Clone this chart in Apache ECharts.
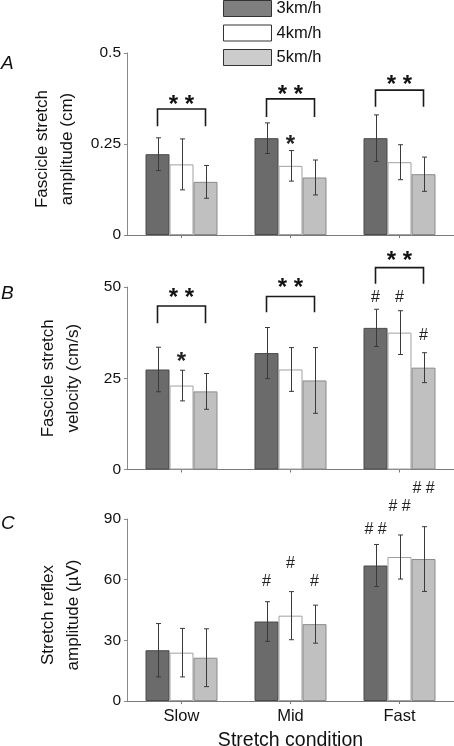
<!DOCTYPE html>
<html>
<head>
<meta charset="utf-8">
<script src="https://cdn.jsdelivr.net/npm/echarts@6/dist/echarts.min.js"></script>
<style>
html,body{margin:0;padding:0;background:#fff;}
#main{width:454px;height:746px;}
</style>
</head>
<body>
<div id="main"></div>
<script>
// ---------- data ----------
const categories = ['Slow', 'Mid', 'Fast'];
const speeds = ['3km/h', '4km/h', '5km/h'];

// Panel A: fascicle stretch amplitude (cm)
const ampMean3 = [0.222, 0.266, 0.266];
const ampSd3   = [0.045, 0.042, 0.064];
const ampMean4 = [0.194, 0.190, 0.200];
const ampSd4   = [0.070, 0.042, 0.048];
const ampMean5 = [0.146, 0.158, 0.167];
const ampSd5   = [0.045, 0.048, 0.047];
const ampTicks = [0, 0.25, 0.5];
const ampBracketTop = [0.346, 0.374, 0.398];
const ampBracketLeg = [0.299, 0.324, 0.352];
const ampStarY      = [0.371, 0.396, 0.426];
const ampMarks = [[1, 1, 0.261, '*']]; // [category, speed, value, text]

// Panel B: fascicle stretch velocity (cm/s)
const velMean3 = [27.4, 31.9, 38.8];
const velSd3   = [6.1, 7.0, 5.1];
const velMean4 = [23.0, 27.4, 37.5];
const velSd4   = [4.2, 6.0, 6.0];
const velMean5 = [21.4, 24.4, 27.9];
const velSd5   = [4.9, 9.0, 4.1];
const velTicks = [0, 25, 50];
const velBracketTop = [44.8, 47.4, 55.3];
const velBracketLeg = [40.1, 43.1, 50.9];
const velStarY      = [48.3, 51.1, 58.4];
const velMarks = [[0, 1, 30.8, '*'], [2, 0, 47.1, '#'], [2, 1, 47.1, '#'], [2, 2, 36.8, '#']];

// Panel C: stretch reflex amplitude (µV)
const refMean3 = [25.1, 39.3, 67.0];
const refSd3   = [13.2, 9.8, 10.4];
const refMean4 = [23.9, 42.2, 71.2];
const refSd4   = [12.0, 11.9, 10.9];
const refMean5 = [21.4, 38.0, 70.2];
const refSd5   = [14.3, 9.4, 16.0];
const refTicks = [0, 30, 60, 90];
const refMarks = [[1, 0, 59.1, '#'], [1, 1, 67.9, '#'], [1, 2, 59.1, '#'],
                  [2, 0, 85.0, '# #'], [2, 1, 95.9, '# #'], [2, 2, 105.0, '# #']];

// ---------- styles ----------
const FONT = "'Liberation Sans', Arial, sans-serif";
const barColors = ['#6b6b6b', '#ffffff', '#c0c0c0'];
const barBorders = ['#4a4a4a', '#a0a0a0', '#8a8a8a'];
const legendColors = ['#7f7f7f', '#ffffff', '#cccccc'];
const BAR_W = 24;
const gridTops = [53, 287, 519];
const gridH = [182, 182.5, 182];
const namePad = [[0, 10, 0, 0], [0, 0, 0, 0], [0, 10, 0, 0]];

const panels = [
  {means: [ampMean3, ampMean4, ampMean5], sds: [ampSd3, ampSd4, ampSd5], ticks: ampTicks,
   name: 'Fascicle stretch\namplitude (cm)', bracketTop: ampBracketTop, bracketLeg: ampBracketLeg,
   starY: ampStarY, marks: ampMarks},
  {means: [velMean3, velMean4, velMean5], sds: [velSd3, velSd4, velSd5], ticks: velTicks,
   name: 'Fascicle stretch\nvelocity (cm/s)', bracketTop: velBracketTop, bracketLeg: velBracketLeg,
   starY: velStarY, marks: velMarks},
  {means: [refMean3, refMean4, refMean5], sds: [refSd3, refSd4, refSd5], ticks: refTicks,
   name: 'Stretch reflex\namplitude (\u00b5V)', bracketTop: null, bracketLeg: null,
   starY: null, marks: refMarks}
];

const grids = [], xAxes = [], yAxes = [], series = [];

panels.forEach((p, pi) => {
  grids.push({left: 127, top: gridTops[pi], width: 327, height: gridH[pi],
              containLabel: false, outerBoundsMode: 'none'});
  const last = pi === panels.length - 1;
  xAxes.push({
    type: 'category', gridIndex: pi, data: categories,
    axisLine: {lineStyle: {color: '#7a7a7a', width: 1}},
    axisTick: {show: true, alignWithLabel: true, length: 3, lineStyle: {color: '#7a7a7a'}},
    axisLabel: {show: last, color: '#111', fontFamily: FONT, fontSize: 16.5, margin: 7},
    name: last ? 'Stretch condition' : '',
    nameLocation: 'middle', nameGap: 30,
    nameTextStyle: {color: '#111', fontFamily: FONT, fontSize: 19.5}
  });
  const tk = p.ticks;
  yAxes.push({
    type: 'value', gridIndex: pi, min: tk[0], max: tk[tk.length - 1], interval: tk[1] - tk[0],
    splitLine: {show: false},
    axisLine: {show: true, lineStyle: {color: '#8a8a8a', width: 1}},
    axisTick: {show: true, length: 3, lineStyle: {color: '#8a8a8a'}},
    axisLabel: {color: '#111', fontFamily: FONT, fontSize: 15.5, margin: 6},
    name: p.name, nameLocation: 'middle', nameRotate: 90, nameGap: 41,
    nameTextStyle: {color: '#111', fontFamily: FONT, fontSize: 17, lineHeight: 25, padding: namePad[pi]}
  });

  // bars
  for (let k = 0; k < 3; k++) {
    series.push({
      type: 'bar', name: speeds[k], xAxisIndex: pi, yAxisIndex: pi,
      data: p.means[k], barWidth: BAR_W, barGap: '0%',
      itemStyle: {color: barColors[k], borderColor: barBorders[k], borderWidth: 1},
      emphasis: {disabled: true}, animation: false, z: 2
    });
  }
  // error bars
  for (let k = 0; k < 3; k++) {
    const mean = p.means[k], sd = p.sds[k];
    series.push({
      type: 'custom', xAxisIndex: pi, yAxisIndex: pi, silent: true, animation: false, z: 5,
      data: categories.map((c, i) => [i, mean[i], sd[i]]),
      encode: {x: 0, y: 1},
      renderItem: (params, api) => {
        const c = api.value(0), m = api.value(1), s = api.value(2);
        const top = api.coord([c, m + s]), bot = api.coord([c, m - s]);
        const x = Math.round(top[0] + (k - 1) * BAR_W) + 0.5;
        const st = {stroke: '#3a3a3a', lineWidth: 1};
        return {type: 'group', children: [
          {type: 'line', shape: {x1: x, y1: top[1], x2: x, y2: bot[1]}, style: st},
          {type: 'line', shape: {x1: x - 2.5, y1: top[1], x2: x + 2.5, y2: top[1]}, style: st},
          {type: 'line', shape: {x1: x - 2.5, y1: bot[1], x2: x + 2.5, y2: bot[1]}, style: st}
        ]};
      }
    });
  }
  // brackets with stars
  if (p.bracketTop) {
    series.push({
      type: 'custom', xAxisIndex: pi, yAxisIndex: pi, silent: true, animation: false, z: 6, clip: false,
      data: categories.map((c, i) => [i, p.bracketTop[i], p.bracketLeg[i], p.starY[i]]),
      encode: {x: 0, y: 1},
      renderItem: (params, api) => {
        const c = api.value(0);
        const t = api.coord([c, api.value(1)]), l = api.coord([c, api.value(2)]), s = api.coord([c, api.value(3)]);
        const x1 = t[0] - BAR_W, x2 = t[0] + BAR_W;
        return {type: 'group', children: [
          {type: 'polyline', shape: {points: [[x1, l[1]], [x1, t[1]], [x2, t[1]], [x2, l[1]]]},
           style: {stroke: '#1a1a1a', lineWidth: 1.6, fill: null}},
          {type: 'text', x: t[0], y: s[1] + 5,
           style: {text: '* *', font: 'bold 24px ' + FONT, fill: '#111', align: 'center', verticalAlign: 'middle'}}
        ]};
      }
    });
  }
  // single marks (* / #)
  const marks = p.marks;
  series.push({
    type: 'custom', xAxisIndex: pi, yAxisIndex: pi, silent: true, animation: false, z: 6, clip: false,
    data: marks.map(mk => [mk[0], mk[2], mk[1]]),
    encode: {x: 0, y: 1},
    renderItem: (params, api) => {
      const mk = marks[params.dataIndex];
      const pt = api.coord([api.value(0), api.value(1)]);
      const x = pt[0] + (api.value(2) - 1) * BAR_W;
      const isStar = mk[3] === '*';
      return {type: 'text', x: x, y: pt[1] + (isStar ? 5 : 0),
        style: {text: mk[3], font: (isStar ? 'bold 24px ' : '16px ') + FONT, fill: '#222',
                align: 'center', verticalAlign: 'middle'}};
    }
  });
});

const option = {
  backgroundColor: '#ffffff',
  animation: false,
  title: [
    {text: 'A', left: 1, top: 54, padding: 0, textStyle: {fontFamily: FONT, fontStyle: 'italic', fontWeight: 'normal', fontSize: 19, color: '#111'}},
    {text: 'B', left: 1, top: 284, padding: 0, textStyle: {fontFamily: FONT, fontStyle: 'italic', fontWeight: 'normal', fontSize: 19, color: '#111'}},
    {text: 'C', left: 1, top: 514, padding: 0, textStyle: {fontFamily: FONT, fontStyle: 'italic', fontWeight: 'normal', fontSize: 19, color: '#111'}}
  ],
  legend: {
    orient: 'vertical', left: 223, top: 0, padding: 0, itemGap: 7.5,
    itemWidth: 48, itemHeight: 16, icon: 'rect', selectedMode: false,
    textStyle: {fontFamily: FONT, fontSize: 16.5, color: '#111', padding: [0, 0, 0, 0]},
    itemStyle: {borderColor: '#333', borderWidth: 1},
    data: speeds.map((s, k) => ({name: s, itemStyle: {color: legendColors[k], borderColor: '#333', borderWidth: 1}}))
  },
  grid: grids,
  xAxis: xAxes,
  yAxis: yAxes,
  series: series
};

const chart = echarts.init(document.getElementById('main'), null, {renderer: 'canvas'});
chart.setOption(option);
</script>
</body>
</html>
